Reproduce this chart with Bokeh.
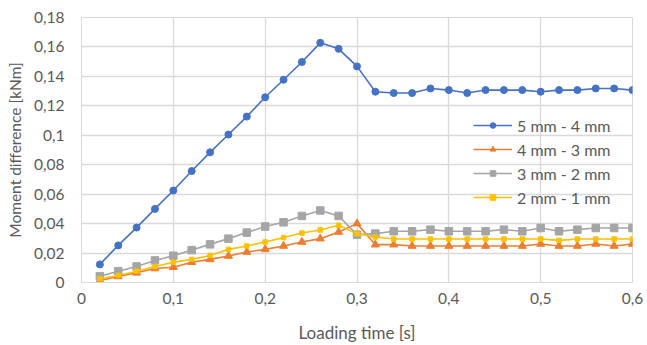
from bokeh.plotting import figure
from bokeh.models import (Range1d, FixedTicker, CustomJSTickFormatter, Legend, LegendItem)
from bokeh.embed import file_html
from bokeh.resources import INLINE

# ---- data ----
t = [0.02, 0.04, 0.06, 0.08, 0.10, 0.12, 0.14, 0.16, 0.18, 0.20,
     0.22, 0.24, 0.26, 0.28, 0.30, 0.32, 0.34, 0.36, 0.38, 0.40,
     0.42, 0.44, 0.46, 0.48, 0.50, 0.52, 0.54, 0.56, 0.58, 0.60]

s_5_4 = [0.0123, 0.0252, 0.0373, 0.0500, 0.0625, 0.0757, 0.0884, 0.1005, 0.1127, 0.1258,
         0.1377, 0.1498, 0.1628, 0.1587, 0.1468, 0.1296, 0.1287, 0.1287, 0.1318, 0.1307,
         0.1287, 0.1307, 0.1307, 0.1307, 0.1296, 0.1307, 0.1307, 0.1318, 0.1318, 0.1307]

s_4_3 = [0.0014, 0.0041, 0.0066, 0.0095, 0.0104, 0.0138, 0.0157, 0.0180, 0.0207, 0.0225,
         0.0248, 0.0275, 0.0298, 0.0343, 0.0400, 0.0257, 0.0257, 0.0248, 0.0248, 0.0248,
         0.0248, 0.0248, 0.0248, 0.0248, 0.0262, 0.0248, 0.0248, 0.0262, 0.0248, 0.0262]

s_3_2 = [0.0043, 0.0077, 0.0109, 0.0150, 0.0182, 0.0220, 0.0259, 0.0298, 0.0339, 0.0380,
         0.0409, 0.0452, 0.0489, 0.0452, 0.0325, 0.0332, 0.0348, 0.0348, 0.0359, 0.0348,
         0.0348, 0.0348, 0.0359, 0.0348, 0.0370, 0.0348, 0.0359, 0.0370, 0.0370, 0.0370]

s_2_1 = [0.0025, 0.0048, 0.0077, 0.0109, 0.0138, 0.0157, 0.0184, 0.0225, 0.0248, 0.0275,
         0.0305, 0.0336, 0.0357, 0.0389, 0.0332, 0.0309, 0.0295, 0.0295, 0.0295, 0.0295,
         0.0295, 0.0295, 0.0295, 0.0295, 0.0295, 0.0286, 0.0295, 0.0295, 0.0295, 0.0295]

series_names = ["5 mm - 4 mm", "4 mm - 3 mm", "3 mm - 2 mm", "2 mm - 1 mm"]
x_ticks = [0.0, 0.1, 0.2, 0.3, 0.4, 0.5, 0.6]
y_ticks = [0.0, 0.02, 0.04, 0.06, 0.08, 0.10, 0.12, 0.14, 0.16, 0.18]

FONT = "Lato"
TXT = "#595959"
GRID = "#d9d9d9"

p = figure(width=647, height=345, output_backend="svg", toolbar_location=None,
           x_range=Range1d(0, 0.6), y_range=Range1d(0, 0.18),
           min_border_left=81, min_border_right=15, min_border_top=17, min_border_bottom=63)
p.outline_line_color = GRID
p.background_fill_color = "white"
p.border_fill_color = "white"

for ax in (p.xaxis[0], p.yaxis[0]):
    ax.axis_line_color = GRID
    ax.major_tick_line_color = None
    ax.minor_tick_line_color = None
    ax.major_tick_out = 0
    ax.major_tick_in = 0
    ax.major_label_text_font = FONT
    ax.major_label_text_font_size = "15.5px"
    ax.major_label_text_color = TXT
    ax.axis_label_text_font = FONT
    ax.axis_label_text_font_style = "normal"
    ax.axis_label_text_color = TXT

p.xaxis.axis_label_text_font_size = "17px"
p.yaxis.axis_label_text_font_size = "15.5px"
p.xaxis.ticker = FixedTicker(ticks=x_ticks)
p.yaxis.ticker = FixedTicker(ticks=y_ticks)
p.xaxis.formatter = CustomJSTickFormatter(code="return (Math.round(tick*10)/10).toString().replace('.', ',');")
p.yaxis.formatter = CustomJSTickFormatter(code="return (Math.round(tick*100)/100).toString().replace('.', ',');")
p.xaxis.axis_label = "Loading time [s]"
p.yaxis.axis_label = "Moment difference [kNm]"
p.xaxis.major_label_standoff = 10
p.yaxis.major_label_standoff = 17
p.xaxis.axis_label_standoff = 15
p.yaxis.axis_label_standoff = 7

p.xgrid.ticker = FixedTicker(ticks=x_ticks)
p.ygrid.ticker = FixedTicker(ticks=y_ticks)
p.xgrid.grid_line_color = GRID
p.ygrid.grid_line_color = GRID
p.xgrid.grid_line_width = 1.3
p.ygrid.grid_line_width = 1.3

items = []
specs = [
    (s_5_4, "#4472C4", "circle", 7),
    (s_4_3, "#ED7D31", "triangle", 8),
    (s_3_2, "#A5A5A5", "square", 7.5),
    (s_2_1, "#FFC000", "square", 4.5),
]
for name, (ys, col, mk, sz) in zip(series_names, specs):
    ln = p.line(t, ys, line_color=col, line_width=1.6)
    sc = p.scatter(t, ys, marker=mk, size=sz, fill_color=col, line_color=col)
    items.append(LegendItem(label=name, renderers=[ln, sc]))

legend = Legend(items=items, location=(392, 73))
legend.background_fill_alpha = 0
legend.border_line_color = None
legend.padding = 0
legend.margin = 0
legend.spacing = 0
legend.glyph_width = 39
legend.glyph_height = 14
legend.label_height = 24
legend.label_standoff = 5
legend.label_text_font = FONT
legend.label_text_font_size = "16px"
legend.label_text_color = TXT
p.add_layout(legend, "center")

open("out.html", "w").write(file_html(p, INLINE))
